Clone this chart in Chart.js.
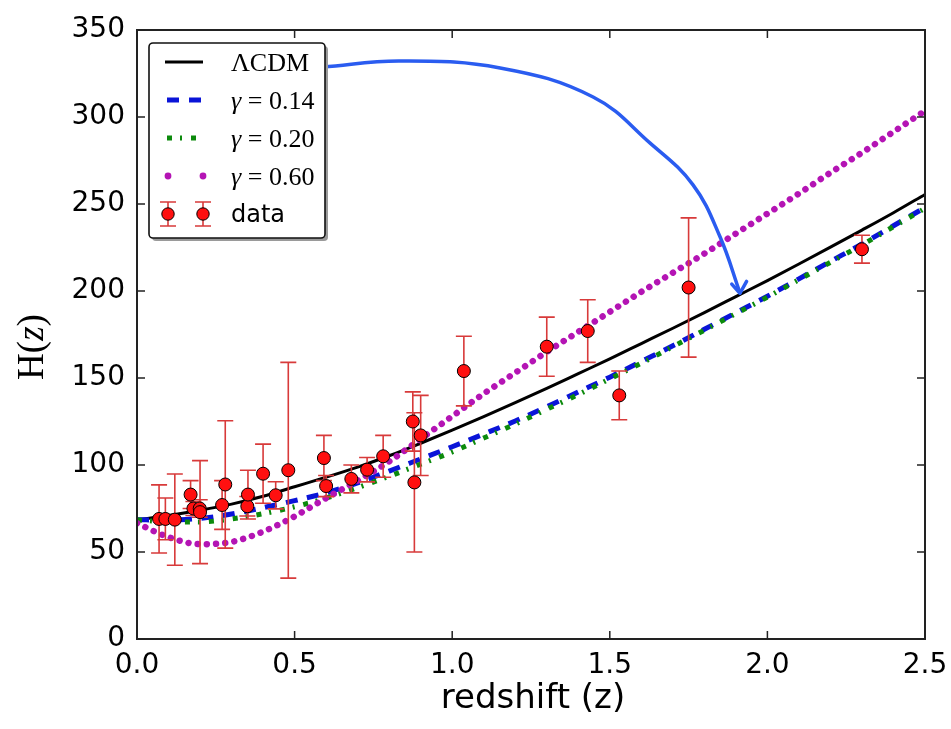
<!DOCTYPE html>
<html>
<head>
<meta charset="utf-8">
<script src="https://cdn.jsdelivr.net/npm/chart.js@4.4.1/dist/chart.umd.min.js"></script>
<style>
  html, body { margin: 0; padding: 0; background: #fff; }
  canvas { display: block; }
</style>
</head>
<body>
<canvas id="hz" width="951" height="729"></canvas>
<script>
// model curves, sampled every 0.1 in z
const zGrid = [0, 0.1, 0.2, 0.3, 0.4, 0.5, 0.6, 0.7, 0.8, 0.9, 1.0, 1.1, 1.2,
  1.3, 1.4, 1.5, 1.6, 1.7, 1.8, 1.9, 2.0, 2.1, 2.2, 2.3, 2.4, 2.5];
const lcdm = [68.5, 71, 74, 77.5, 82, 87.5, 93, 98.8, 105.3, 112.5, 120, 127.8, 135.8,
  144, 152.5, 161, 169.8, 178.6, 187.6, 196.8, 206, 215.5, 225.2, 235, 245, 255.5];
const gamma014 = [68.5, 68.4, 69.3, 71.8, 75.5, 79.5, 84, 89.7, 96.5, 103.5, 110.5, 117.8, 125.3,
  133.5, 142, 150.5, 159.5, 168.5, 178, 187.5, 197, 207, 217, 227, 237.5, 248];
const gamma020 = [68.5, 67.3, 67.3, 69, 72, 76, 81, 87, 93.5, 100.5, 107.5, 115.5, 123.5,
  132, 140.5, 149.5, 158.5, 168, 177.5, 187, 196.5, 206.5, 216.5, 226.5, 237, 247.5];
const gamma060 = [66.5, 58.5, 54.5, 55.8, 61.7, 70.5, 81, 91, 102, 115, 128, 141, 153,
  165, 176.5, 188, 199.5, 210.5, 221.5, 233, 244.5, 256, 268, 279.5, 291.5, 303.5];

// observational H(z) points with 1-sigma errors
const dataZ = [0.07, 0.09, 0.12, 0.17, 0.179, 0.199, 0.2, 0.27, 0.28, 0.35, 0.352, 0.4, 0.44,
  0.48, 0.593, 0.6, 0.68, 0.73, 0.781, 0.875, 0.88, 0.9, 1.037, 1.3, 1.43, 1.53, 1.75, 2.3];
const dataH = [69, 69, 68.6, 83, 75, 75, 72.9, 77, 88.8, 76.3, 83, 95, 82.6,
  97, 104, 87.9, 92, 97.3, 105, 125, 90, 117, 154, 168, 177, 140, 202, 224];
const dataErr = [19.6, 12, 26.2, 8, 4, 5, 29.6, 14, 36.6, 5.6, 14, 17, 7.8,
  62, 13, 6.1, 8, 7, 12, 17, 40, 23, 20, 17, 18, 14, 40, 8];

// hand-drawn arrow (data coordinates)
const arrowZ = [0.59, 0.834, 1.152, 1.447, 1.628, 1.764, 1.85, 1.913];
const arrowH = [328.7, 332.2, 328.2, 311.5, 285, 261, 231, 198.9];
const headZ = [1.887, 1.913, 1.934];
const headH = [204, 198.7, 205.5];

const xTicks = [0, 0.5, 1.0, 1.5, 2.0, 2.5];
const yTicks = [0, 50, 100, 150, 200, 250, 300, 350];

const pts = (xs, ys) => xs.map((x, i) => ({ x: x, y: ys[i] }));

const BLACK = '#000000', BLUE = '#0a14d8', GREEN = '#0c8a0c', MAGENTA = '#b414b4';
const RED = '#ff1010', ERR = '#d83a3a', ARROW = '#2a5cf0';
const DATA_INDEX = 2;

const curve = (vals, color, width, dash, cap) => ({
  data: pts(zGrid, vals),
  showLine: true,
  borderColor: color,
  borderWidth: width,
  borderDash: dash,
  borderCapStyle: cap,
  cubicInterpolationMode: 'monotone',
  pointRadius: 0
});

const errorBars = {
  id: 'errorBars',
  beforeDatasetDraw(chart, args) {
    if (args.index !== DATA_INDEX) return;
    const { ctx, scales: { x, y } } = chart;
    ctx.save();
    ctx.strokeStyle = ERR;
    ctx.lineWidth = 1.6;
    dataZ.forEach((z, i) => {
      const px = x.getPixelForValue(z);
      const top = y.getPixelForValue(dataH[i] + dataErr[i]);
      const bot = y.getPixelForValue(dataH[i] - dataErr[i]);
      ctx.beginPath();
      ctx.moveTo(px, top); ctx.lineTo(px, bot);
      ctx.moveTo(px - 8, top); ctx.lineTo(px + 8, top);
      ctx.moveTo(px - 8, bot); ctx.lineTo(px + 8, bot);
      ctx.stroke();
    });
    ctx.restore();
  }
};

const frame = {
  id: 'frame',
  afterDatasetsDraw(chart) {
    const { ctx, chartArea: a, scales: { x, y } } = chart;
    ctx.save();
    ctx.strokeStyle = '#222';
    ctx.lineWidth = 2;
    ctx.strokeRect(a.left, a.top, a.right - a.left, a.bottom - a.top);
    ctx.lineWidth = 1.5;
    ctx.beginPath();
    xTicks.forEach(v => {
      const p = x.getPixelForValue(v);
      ctx.moveTo(p, a.bottom); ctx.lineTo(p, a.bottom - 8);
      ctx.moveTo(p, a.top); ctx.lineTo(p, a.top + 8);
    });
    yTicks.forEach(v => {
      const p = y.getPixelForValue(v);
      ctx.moveTo(a.left, p); ctx.lineTo(a.left + 8, p);
      ctx.moveTo(a.right, p); ctx.lineTo(a.right - 8, p);
    });
    ctx.stroke();
    ctx.restore();
  }
};

// draws a run of [text, font] pieces starting at x
function drawPieces(ctx, pieces, x, y) {
  pieces.forEach(([t, f]) => {
    ctx.font = f;
    ctx.fillText(t, x, y);
    x += ctx.measureText(t).width;
  });
}
function piecesWidth(ctx, pieces) {
  return pieces.reduce((w, [t, f]) => { ctx.font = f; return w + ctx.measureText(t).width; }, 0);
}

const annotations = {
  id: 'annotations',
  afterDraw(chart) {
    const { ctx, chartArea: a } = chart;
    ctx.save();
    ctx.fillStyle = '#000';
    ctx.textBaseline = 'alphabetic';

    // axis titles
    ctx.font = '34px "DejaVu Sans"';
    ctx.textAlign = 'center';
    ctx.fillText('redshift (z)', (a.left + a.right) / 2 + 2, 708);
    ctx.textAlign = 'left';
    const serif = '37px "Liberation Serif"', serifI = 'italic 37px "Liberation Serif"';
    const yt = [['H(', serif], ['z', serifI], [')', serif]];
    ctx.save();
    ctx.translate(43, 347);
    ctx.rotate(-Math.PI / 2);
    drawPieces(ctx, yt, -piecesWidth(ctx, yt) / 2, 0);
    ctx.restore();

    // legend box with shadow
    const bx = 149, by = 43, bw = 176, bh = 195;
    const rr = (ox, oy) => {
      ctx.beginPath();
      ctx.roundRect(bx + ox, by + oy, bw, bh, 4);
    };
    ctx.fillStyle = '#9a9a9a';
    rr(3, 3); ctx.fill();
    ctx.fillStyle = '#fff';
    rr(0, 0); ctx.fill();
    ctx.strokeStyle = '#111';
    ctx.lineWidth = 1.6;
    rr(0, 0); ctx.stroke();

    const rows = [62, 100, 138, 176, 214];
    const x0 = 165, x1 = 203, tx = 231;
    ctx.lineCap = 'butt';
    // LCDM
    ctx.strokeStyle = BLACK; ctx.lineWidth = 3; ctx.setLineDash([]);
    ctx.beginPath(); ctx.moveTo(x0, rows[0]); ctx.lineTo(x1, rows[0]); ctx.stroke();
    // gamma 0.14
    ctx.strokeStyle = BLUE; ctx.lineWidth = 5; ctx.setLineDash([12, 10]);
    ctx.beginPath(); ctx.moveTo(x0 + 2, rows[1]); ctx.lineTo(x1, rows[1]); ctx.stroke();
    // gamma 0.20
    ctx.strokeStyle = GREEN; ctx.lineWidth = 5; ctx.setLineDash([5, 8, 2, 9]);
    ctx.beginPath(); ctx.moveTo(x0 + 2, rows[2]); ctx.lineTo(x1, rows[2]); ctx.stroke();
    ctx.setLineDash([]);
    // gamma 0.60 markers
    ctx.fillStyle = MAGENTA;
    [168, 203].forEach(cx => { ctx.beginPath(); ctx.arc(cx, rows[3], 3.4, 0, Math.PI * 2); ctx.fill(); });
    // data markers
    [168, 203].forEach(cx => {
      ctx.strokeStyle = ERR; ctx.lineWidth = 1.6;
      ctx.beginPath();
      ctx.moveTo(cx, rows[4] - 12); ctx.lineTo(cx, rows[4] + 12);
      ctx.moveTo(cx - 8, rows[4] - 12); ctx.lineTo(cx + 8, rows[4] - 12);
      ctx.moveTo(cx - 8, rows[4] + 12); ctx.lineTo(cx + 8, rows[4] + 12);
      ctx.stroke();
      ctx.fillStyle = RED; ctx.strokeStyle = '#000'; ctx.lineWidth = 1;
      ctx.beginPath(); ctx.arc(cx, rows[4], 6.2, 0, Math.PI * 2); ctx.fill(); ctx.stroke();
    });

    // legend labels
    ctx.fillStyle = '#000';
    const lf = '26px "Liberation Serif"', lfi = 'italic 26px "Liberation Serif"';
    const base = r => rows[r] + 9;
    drawPieces(ctx, [['\u039BCDM', lf]], tx, base(0));
    ['0.14', '0.20', '0.60'].forEach((g, k) => {
      drawPieces(ctx, [['\u03B3', lfi], [' = ', lf], [g, lf]], tx, base(k + 1));
    });
    ctx.font = '24px "DejaVu Sans"';
    ctx.fillText('data', tx, base(4) - 1);
    ctx.restore();
  }
};

new Chart(document.getElementById('hz'), {
  type: 'scatter',
  data: {
    datasets: [
      {
        data: pts(arrowZ, arrowH), showLine: true, borderColor: ARROW, borderWidth: 3.5,
        borderCapStyle: 'round', borderJoinStyle: 'round', tension: 0.4, pointRadius: 0, clip: false
      },
      {
        data: pts(headZ, headH), showLine: true, borderColor: ARROW, borderWidth: 3.5,
        borderCapStyle: 'round', borderJoinStyle: 'round', pointRadius: 0
      },
      {
        data: pts(dataZ, dataH), pointRadius: 6.5, pointBackgroundColor: RED,
        pointBorderColor: '#000', pointBorderWidth: 1
      },
      curve(gamma060, MAGENTA, 6.5, [0.01, 9.2], 'round'),
      curve(gamma020, GREEN, 5, [5, 8, 2, 9], 'butt'),
      curve(gamma014, BLUE, 5, [12, 9.5], 'butt'),
      curve(lcdm, BLACK, 3, [], 'butt')
    ]
  },
  options: {
    responsive: false,
    animation: false,
    devicePixelRatio: 1,
    layout: { padding: { top: 30, right: 26, left: 0, bottom: 0 } },
    plugins: { legend: { display: false }, tooltip: { enabled: false } },
    scales: {
      x: {
        type: 'linear', min: 0, max: 2.5,
        afterFit(s) { s.height = 90; s.paddingLeft = 0; s.paddingRight = 0; },
        grid: { display: false, drawTicks: false },
        border: { display: false },
        afterBuildTicks(s) { s.ticks = xTicks.map(v => ({ value: v })); },
        ticks: {
          padding: 10, color: '#000', maxRotation: 0,
          font: { family: 'DejaVu Sans', size: 28 },
          callback: v => v.toFixed(1)
        }
      },
      y: {
        type: 'linear', min: 0, max: 350,
        afterFit(s) { s.width = 137; s.paddingTop = 0; s.paddingBottom = 0; },
        grid: { display: false, drawTicks: false },
        border: { display: false },
        afterBuildTicks(s) { s.ticks = yTicks.map(v => ({ value: v })); },
        ticks: {
          padding: 12, color: '#000',
          font: { family: 'DejaVu Sans', size: 28 },
          callback: v => String(v)
        }
      }
    }
  },
  plugins: [errorBars, frame, annotations]
});
</script>
</body>
</html>
